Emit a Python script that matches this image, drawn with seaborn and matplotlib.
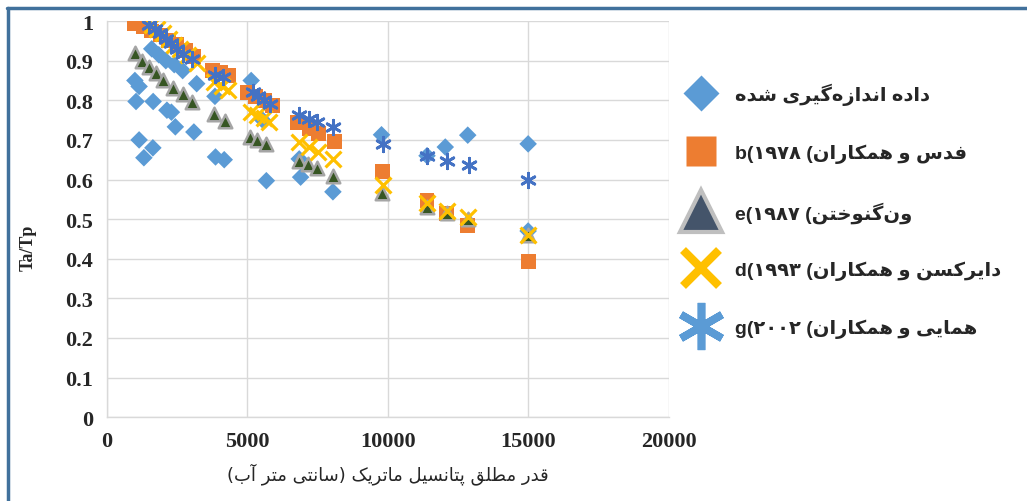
import matplotlib
matplotlib.use('Agg')
import matplotlib.pyplot as plt
from matplotlib.lines import Line2D
import seaborn as sns

# داده اندازه‌گیری شده
meas_x = [1000, 1150, 1040, 1150, 1320, 1640, 1650, 2140, 2300, 2440, 3100,
          1600, 1850, 2100, 2400, 2700, 3200, 3850, 3870, 4180,
          5140, 5550, 5680, 6850, 6900, 8050, 9780, 11400, 12050, 12850, 15000, 15000]
meas_y = [0.85, 0.835, 0.797, 0.70, 0.655, 0.68, 0.797, 0.775, 0.77, 0.733, 0.72,
          0.93, 0.915, 0.90, 0.89, 0.875, 0.842, 0.81, 0.657, 0.65,
          0.85, 0.75, 0.597, 0.652, 0.606, 0.569, 0.713, 0.66, 0.682, 0.712, 0.69, 0.47]

# b(1978)
feddes_x = [1000, 1300, 1600, 1900, 2200, 2500, 2800, 3100, 3750, 4050, 4350,
            5000, 5300, 5600, 5900, 6800, 7200, 7550, 8100, 9800, 11400, 12100, 12850, 15000]
feddes_y = [0.995, 0.985, 0.975, 0.965, 0.95, 0.94, 0.925, 0.91, 0.875, 0.87, 0.862,
            0.82, 0.81, 0.80, 0.787, 0.745, 0.728, 0.716, 0.695, 0.62, 0.547, 0.514, 0.484, 0.392]

# e(1987)
vg_x = [1000, 1250, 1500, 1750, 2000, 2350, 2700, 3050, 3800, 4200,
        5100, 5350, 5650, 6850, 7150, 7500, 8050, 9800, 11400, 12100, 12850, 15000]
vg_y = [0.92, 0.90, 0.885, 0.87, 0.85, 0.83, 0.815, 0.795, 0.765, 0.748,
        0.708, 0.70, 0.69, 0.648, 0.64, 0.628, 0.61, 0.566, 0.53, 0.515, 0.50, 0.46]

# d(1993)
dirk_x = [1600, 1800, 2000, 2200, 2400, 2600, 2900, 3200, 3800, 4100, 4300,
          5120, 5360, 5600, 5780, 6850, 7200, 7520, 8050, 9850, 11400, 12100, 12850, 15000]
dirk_y = [0.99, 0.98, 0.97, 0.955, 0.94, 0.93, 0.915, 0.895, 0.845, 0.835, 0.825,
          0.771, 0.762, 0.755, 0.745, 0.695, 0.683, 0.67, 0.653, 0.585, 0.54, 0.52, 0.506, 0.459]

# g(2002)
hom_x = [1500, 1700, 1900, 2100, 2300, 2500, 2700, 3050, 3850, 4150,
         5200, 5400, 5600, 5800, 6850, 7200, 7500, 8050, 9850, 11400, 12100, 12900, 15000]
hom_y = [0.99, 0.98, 0.97, 0.955, 0.945, 0.93, 0.918, 0.905, 0.865, 0.86,
         0.82, 0.81, 0.80, 0.79, 0.762, 0.754, 0.745, 0.733, 0.69, 0.66, 0.648, 0.636, 0.60]

# شکل‌دهی حروف فارسی (matplotlib خودش اتصال حروف را انجام نمی‌دهد)
FORMS = {
    'ا': (0xFE8D, 0xFE8E, None, None), 'آ': (0xFE81, 0xFE82, None, None),
    'د': (0xFEA9, 0xFEAA, None, None), 'ر': (0xFEAD, 0xFEAE, None, None),
    'ز': (0xFEAF, 0xFEB0, None, None), 'و': (0xFEED, 0xFEEE, None, None),
    'ب': (0xFE8F, 0xFE90, 0xFE91, 0xFE92), 'پ': (0xFB56, 0xFB57, 0xFB58, 0xFB59),
    'ت': (0xFE95, 0xFE96, 0xFE97, 0xFE98), 'خ': (0xFEA5, 0xFEA6, 0xFEA7, 0xFEA8),
    'س': (0xFEB1, 0xFEB2, 0xFEB3, 0xFEB4), 'ش': (0xFEB5, 0xFEB6, 0xFEB7, 0xFEB8),
    'ط': (0xFEC1, 0xFEC2, 0xFEC3, 0xFEC4), 'ف': (0xFED1, 0xFED2, 0xFED3, 0xFED4),
    'ق': (0xFED5, 0xFED6, 0xFED7, 0xFED8), 'ک': (0xFB8E, 0xFB8F, 0xFB90, 0xFB91),
    'گ': (0xFB92, 0xFB93, 0xFB94, 0xFB95), 'ل': (0xFEDD, 0xFEDE, 0xFEDF, 0xFEE0),
    'م': (0xFEE1, 0xFEE2, 0xFEE3, 0xFEE4), 'ن': (0xFEE5, 0xFEE6, 0xFEE7, 0xFEE8),
    'ه': (0xFEE9, 0xFEEA, 0xFEEB, 0xFEEC), 'ی': (0xFBFC, 0xFBFD, 0xFBFE, 0xFBFF),
}


def fa(s):
    out = []
    for i, ch in enumerate(s):
        if ch not in FORMS:
            if ch != '\u200c':
                out.append(ch)
            continue
        f = FORMS[ch]
        prev = s[i - 1] if i > 0 else ''
        nxt = s[i + 1] if i + 1 < len(s) else ''
        jp = prev in FORMS and FORMS[prev][2] is not None
        jn = nxt in FORMS and f[2] is not None
        if jp and jn:
            c = f[3]
        elif jp:
            c = f[1]
        elif jn:
            c = f[2]
        else:
            c = f[0]
        out.append(chr(c))
    vis = ''.join(out)[::-1]
    return vis.translate(str.maketrans('()', ')('))


labels = [
    fa('داده اندازه\u200cگیری شده'),
    'b(۱۹۷۸ (' + fa('فدس و همکاران'),
    'e(۱۹۸۷ (' + fa('ون\u200cگنوختن'),
    'd(۱۹۹۳ (' + fa('دایرکسن و همکاران'),
    'g(۲۰۰۲ (' + fa('همایی و همکاران'),
]
xlabel = fa('قدر مطلق پتانسیل ماتریک (سانتی متر آب)')

sns.set_style('white')
plt.rcParams['font.family'] = ['Liberation Serif', 'DejaVu Sans']

fig = plt.figure(figsize=(10.27, 5.02), dpi=100)
ax = fig.add_axes([0.104, 0.167, 0.547, 0.789])

sns.scatterplot(x=meas_x, y=meas_y, marker='D', s=80, color='#5B9BD5',
                edgecolor='none', linewidth=0, ax=ax, zorder=3)
sns.scatterplot(x=feddes_x, y=feddes_y, marker='s', s=115, color='#ED7D31',
                edgecolor='none', linewidth=0, ax=ax, zorder=3)
sns.scatterplot(x=vg_x, y=vg_y, marker='^', s=95, color='#375623',
                edgecolor='#A5A5A5', linewidth=1.8, ax=ax, zorder=3)
sns.scatterplot(x=dirk_x, y=dirk_y, marker='x', s=130, color='#FFC000',
                linewidth=2.3, ax=ax, zorder=3)
sns.scatterplot(x=hom_x, y=hom_y, marker=(6, 2, 0), s=110, color='#4472C4',
                linewidth=2.0, ax=ax, zorder=3)

ax.set_xlim(0, 20000)
ax.set_ylim(0, 1)
ax.set_xticks([0, 5000, 10000, 15000, 20000])
ax.set_xticklabels(['0', '5000', '10000', '15000', '20000'])
ax.set_yticks([i / 10 for i in range(11)])
ax.set_yticklabels(['0'] + ['0.%d' % i for i in range(1, 10)] + ['1'])
ax.grid(True, color='#D9D9D9', linewidth=1.0)
ax.set_axisbelow(True)
for side in ['top', 'right']:
    ax.spines[side].set_visible(False)
for side in ['left', 'bottom']:
    ax.spines[side].set_color('#D9D9D9')
    ax.spines[side].set_linewidth(1.0)
ax.tick_params(length=0, labelsize=16, pad=10)
for t in ax.get_xticklabels() + ax.get_yticklabels():
    t.set_fontweight('bold')

ax.set_ylabel('Ta/Tp', fontsize=13, fontweight='bold')
ax.yaxis.set_label_coords(-0.125, 0.43)
ax.set_xlabel(xlabel, fontsize=13, family=['DejaVu Sans'], labelpad=8)

handles = [
    Line2D([], [], ls='none', marker='D', ms=18, color='#5B9BD5', mec='none'),
    Line2D([], [], ls='none', marker='s', ms=22, color='#ED7D31', mec='none'),
    Line2D([], [], ls='none', marker='^', ms=30, mfc='#44546A', mec='#BFBFBF', mew=3),
    Line2D([], [], ls='none', marker='x', ms=26, color='#FFC000', mew=6),
    Line2D([], [], ls='none', marker=(6, 2, 0), ms=34, color='#5B9BD5', mew=5.5),
]
fig.legend(handles, labels, loc='upper left', bbox_to_anchor=(0.654, 0.853),
           frameon=False, labelspacing=1.97, handletextpad=0.75, borderpad=0,
           prop={'family': ['Liberation Sans', 'DejaVu Sans'], 'weight': 'bold', 'size': 14})

# قاب آبی دور شکل
fig.add_artist(Line2D([0.007, 1.0], [0.982, 0.982], color='#41719C', lw=2.5))
fig.add_artist(Line2D([0.008, 0.008], [0.0, 0.982], color='#41719C', lw=2.5))

fig.savefig('out.png', dpi=100)
